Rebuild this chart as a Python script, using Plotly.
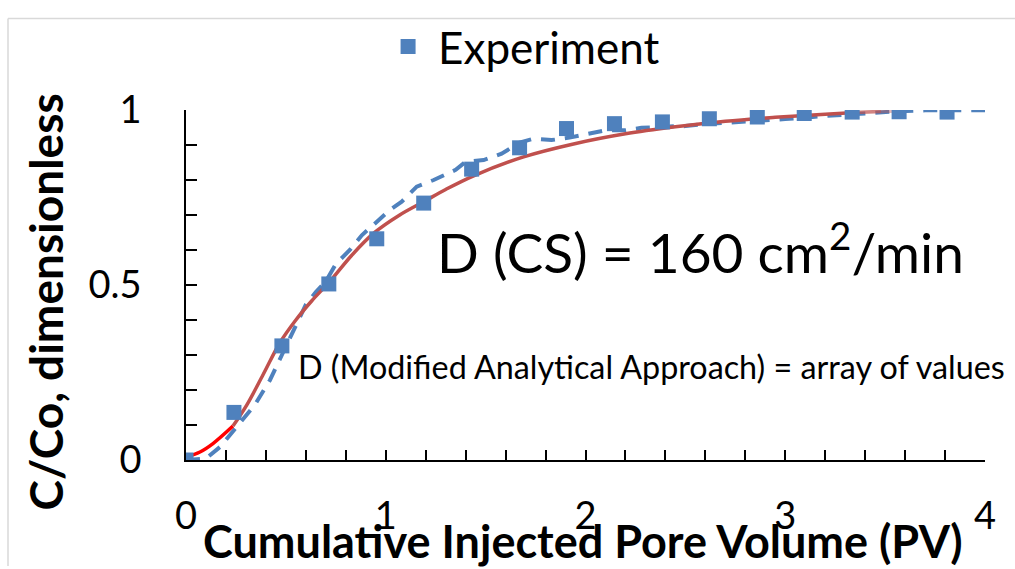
import plotly.graph_objects as go

# Experiment data
exp_x = [0, 0.24, 0.48, 0.715, 0.955, 1.19, 1.43, 1.67, 1.905, 2.145, 2.385, 2.62, 2.86, 3.095, 3.335, 3.57, 3.81]
exp_y = [0.0, 0.136, 0.326, 0.503, 0.632, 0.734, 0.831, 0.892, 0.947, 0.961, 0.966, 0.975, 0.980, 0.990, 0.994, 0.995, 0.994]

# CS model curve (initial bright segment + main segment)
cs0_x = [0, 0.07, 0.135, 0.235]
cs0_y = [0.009, 0.023, 0.047, 0.097]
cs_x = [0.235, 0.304, 0.387, 0.47, 0.55, 0.63, 0.72, 0.83, 0.94, 1.07, 1.19, 1.30, 1.44, 1.69, 1.94, 2.2, 2.45, 2.7, 2.95, 3.2, 3.35, 3.48, 3.6]
cs_y = [0.097, 0.157, 0.245, 0.335, 0.400, 0.455, 0.51, 0.585, 0.648, 0.700, 0.738, 0.773, 0.812, 0.866, 0.903, 0.932, 0.952, 0.968, 0.979, 0.988, 0.993, 0.996, 0.998]

# Modified analytical approach curve
ma_x = [0, 0.10, 0.17, 0.23, 0.29, 0.345, 0.39, 0.42, 0.48, 0.555, 0.60, 0.65, 0.70, 0.75, 0.82, 0.88, 0.945,
        1.02, 1.08, 1.155, 1.24, 1.35, 1.40, 1.49, 1.58, 1.67, 1.74, 1.83, 1.92, 2.01, 2.10, 2.20, 2.28, 2.42,
        2.50, 2.60, 2.70, 2.80, 2.90, 3.00, 3.10, 3.20, 3.40, 3.55, 3.70, 3.85, 4.0]
ma_y = [0, 0.004, 0.037, 0.079, 0.118, 0.158, 0.20, 0.228, 0.30, 0.394, 0.444, 0.48, 0.51, 0.56, 0.60, 0.642, 0.674,
        0.714, 0.738, 0.781, 0.80, 0.829, 0.852, 0.857, 0.875, 0.907, 0.918, 0.914, 0.921, 0.931, 0.942, 0.942, 0.949, 0.953,
        0.954, 0.96, 0.963, 0.967, 0.971, 0.974, 0.978, 0.983, 0.99, 0.996, 0.999, 0.999, 0.999]

x_ticks = [0, 1, 2, 3, 4]
y_ticks = [0, 0.5, 1]
y_tick_text = ["0", "0.5", "1"]

FONT = "Lato"
BLUE = "#4F81BD"
RED = "#C0504D"

fig = go.Figure()

fig.add_trace(go.Scatter(x=ma_x, y=ma_y, mode="lines", showlegend=False,
                         line=dict(color=BLUE, width=4, dash="14px,10px")))
fig.add_trace(go.Scatter(x=cs0_x, y=cs0_y, mode="lines", showlegend=False,
                         line=dict(color="#FF0000", width=3.5, shape="spline")))
# main CS segment, fading out at the end
n_fade = 3
main_end = len(cs_x) - n_fade
fig.add_trace(go.Scatter(x=cs_x[:main_end + 1], y=cs_y[:main_end + 1], mode="lines", showlegend=False,
                         line=dict(color=RED, width=3.5, shape="spline", smoothing=1)))
for k, op in zip(range(main_end, len(cs_x) - 1), [0.7, 0.4, 0.15]):
    fig.add_trace(go.Scatter(x=cs_x[k:k + 2], y=cs_y[k:k + 2], mode="lines", showlegend=False,
                             opacity=op, line=dict(color=RED, width=3.5)))

fig.add_trace(go.Scatter(x=exp_x, y=exp_y, mode="markers", name="Experiment",
                         marker=dict(symbol="square", size=15, color=BLUE)))

fig.update_layout(
    width=1015, height=569,
    margin=dict(l=186, r=30, t=100, b=109),
    paper_bgcolor="white", plot_bgcolor="white",
    font=dict(family=FONT, color="black"),
    legend=dict(orientation="h", x=0.42, xanchor="center", y=1.18, yanchor="middle", itemwidth=50,
                font=dict(size=44, family=FONT), bgcolor="rgba(0,0,0,0)"),
    xaxis=dict(range=[0, 4], tickvals=x_ticks, ticktext=[str(v) for v in x_ticks],
               ticks="inside", ticklen=10, tickcolor="black", tickwidth=1.5,
               showline=True, linecolor="black", linewidth=1.5, showgrid=False, zeroline=False,
               tickfont=dict(size=38, family=FONT), ticklabelstandoff=22,
               minor=dict(dtick=0.2, ticks="inside", ticklen=10, tickcolor="black", tickwidth=1.5, showgrid=False)),
    yaxis=dict(range=[0, 1], tickvals=y_ticks, ticktext=y_tick_text,
               ticks="inside", ticklen=11, tickcolor="black", tickwidth=1.5,
               showline=True, linecolor="black", linewidth=1.5, showgrid=False, zeroline=False,
               tickfont=dict(size=38, family=FONT), ticklabelstandoff=35,
               minor=dict(dtick=0.1, ticks="inside", ticklen=11, tickcolor="black", tickwidth=1.5, showgrid=False)),
)

# axis titles
fig.add_annotation(text="<b>Cumulative Injected Pore Volume (PV)</b>", xref="paper", yref="paper",
                   x=(583 - 186) / 799, y=(460 - 543) / 360, showarrow=False,
                   font=dict(size=45, family=FONT), xanchor="center", yanchor="middle")
fig.add_annotation(text="<b>C/Co, dimensionless</b>", xref="paper", yref="paper",
                   x=(45 - 186) / 799, y=(460 - 298) / 360, showarrow=False, textangle=-90,
                   font=dict(size=46, family=FONT), xanchor="center", yanchor="middle")

# text annotations
fig.add_annotation(text="D (CS) = 160 cm<sup>2</sup>/min", xref="paper", yref="paper",
                   x=(435 - 186) / 799, y=(460 - 242) / 360, showarrow=False,
                   font=dict(size=55, family=FONT), xanchor="left", yanchor="middle")
fig.add_annotation(text="D (Modified Analytical Approach) = array of values", xref="paper", yref="paper",
                   x=(296 - 186) / 799, y=(460 - 364) / 360, showarrow=False,
                   font=dict(size=32.3, family=FONT), xanchor="left", yanchor="middle")

# light chart border (top and left edges visible)
border_left = (8 - 186) / 799
border_top = (460 - 6) / 360
fig.add_shape(type="line", xref="paper", yref="paper", x0=border_left, x1=(1015 - 186) / 799,
              y0=border_top, y1=border_top, line=dict(color="#D9D9D9", width=1.5), layer="below")
fig.add_shape(type="line", xref="paper", yref="paper", x0=border_left, x1=border_left,
              y0=border_top, y1=(460 - 569) / 360, line=dict(color="#D9D9D9", width=1.5), layer="below")

fig.write_html("out.html", config={"displayModeBar": False},
               post_script="document.body.style.margin='0';document.body.style.overflow='hidden';")
